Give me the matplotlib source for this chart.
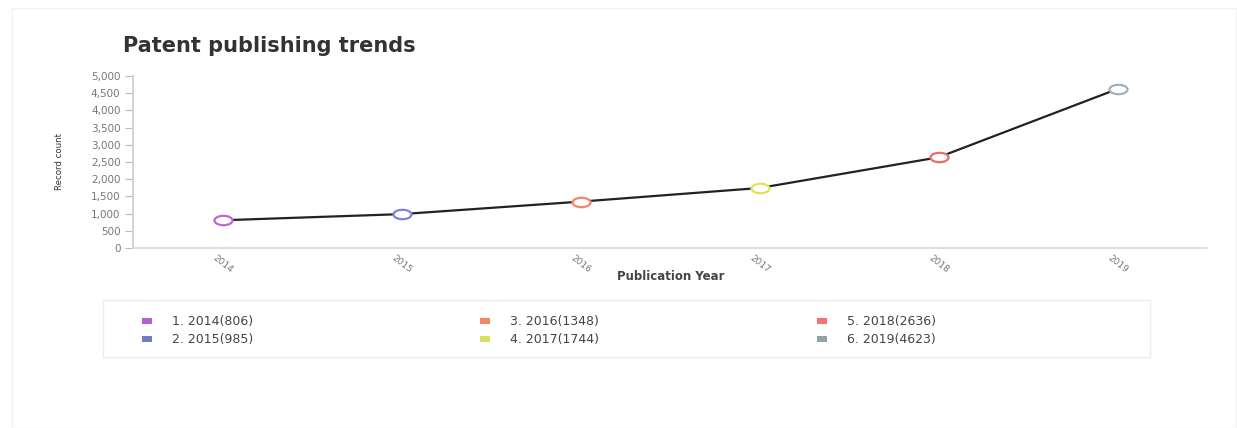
import matplotlib
matplotlib.use("Agg")
import matplotlib.pyplot as plt
from matplotlib.patches import Rectangle
from matplotlib.path import Path
import matplotlib.transforms as mtransforms

years = ["2014", "2015", "2016", "2017", "2018", "2019"]
counts = [806, 985, 1348, 1744, 2636, 4623]
marker_colors = ["#c264d6", "#8080e0", "#f2866a", "#e2e05c", "#f06a66", "#9db2c0"]
legend_colors = ["#b65fd0", "#6f7fc6", "#f5875e", "#d8e060", "#f07472", "#8ea2aa"]
y_ticks = [0, 500, 1000, 1500, 2000, 2500, 3000, 3500, 4000, 4500, 5000]

W, H = 1237, 428
fig = plt.figure(figsize=(W / 100, H / 100), dpi=100)
fig.patch.set_facecolor("white")

# faint panel border
fig.add_artist(Rectangle((12 / W, 0), (W - 13) / W, (H - 8) / H, transform=fig.transFigure,
                         fill=False, edgecolor="#f2f2f2", linewidth=1))

ax = fig.add_axes([133 / W, (H - 248) / H, (1207 - 133) / W, (248 - 76) / H])
x = list(range(len(years)))
ax.plot(x, counts, color="#222222", linewidth=1.6, zorder=2)

ellipse = Path(Path.unit_circle().vertices * [1.0, 0.52], Path.unit_circle().codes)
for xi, yi, c in zip(x, counts, marker_colors):
    ax.plot([xi], [yi], marker=ellipse, markersize=13, markerfacecolor="white",
            markeredgecolor=c, markeredgewidth=1.6, linestyle="none", zorder=3)

ax.set_xlim(-0.5, len(years) - 0.5)
ax.set_ylim(0, 5000)
ax.set_yticks(y_ticks)
ax.set_yticklabels([f"{v:,}" for v in y_ticks], fontsize=7.5, color="#777777")
ax.set_xticks(x)
ax.set_xticklabels(years, fontsize=6.5, color="#777777", rotation=-38, ha="center", va="top")
offset = mtransforms.ScaledTranslation(8 / 100, 0, fig.dpi_scale_trans)
for lab in ax.get_xticklabels():
    lab.set_transform(lab.get_transform() + offset)
ax.tick_params(axis="x", length=0, pad=4)
ax.tick_params(axis="y", length=6, width=0.8, color="#bbbbbb", pad=3)
for s in ["top", "right"]:
    ax.spines[s].set_visible(False)
ax.spines["left"].set_color("#cccccc")
ax.spines["left"].set_linewidth(1.2)
ax.spines["bottom"].set_color("#d8d8d8")
ax.spines["bottom"].set_linewidth(1.2)

fig.text(123 / W, 1 - 46 / H, "Patent publishing trends", fontsize=15, fontweight="bold",
         color="#333333", family=["DejaVu Sans"], va="center", ha="left")
fig.text(60 / W, 1 - 162 / H, "Record count", fontsize=6.2, rotation=90, color="#333333",
         family=["Liberation Sans Narrow", "DejaVu Sans"], va="center", ha="center")
fig.text(671 / W, 1 - 276 / H, "Publication Year", fontsize=8.5, fontweight="bold",
         color="#444444", va="center", ha="center")

# legend box
fig.add_artist(Rectangle((103 / W, 1 - 357 / H), (1150 - 103) / W, 57 / H,
                         transform=fig.transFigure, fill=False, edgecolor="#ececec", linewidth=1))
col_x = [142, 480, 817]
row_y = [321, 339]
for i, (yr, cnt, c) in enumerate(zip(years, counts, legend_colors)):
    cx = col_x[i // 2]
    ry = row_y[i % 2]
    fig.add_artist(Rectangle((cx / W, 1 - (ry + 3) / H), 10 / W, 6 / H,
                             transform=fig.transFigure, facecolor=c, edgecolor="none"))
    fig.text((cx + 30) / W, 1 - ry / H, f"{i + 1}. {yr}({cnt})", fontsize=9,
             color="#444444", family=["DejaVu Sans"], va="center", ha="left")

fig.savefig("out.png", dpi=100, facecolor="white")
